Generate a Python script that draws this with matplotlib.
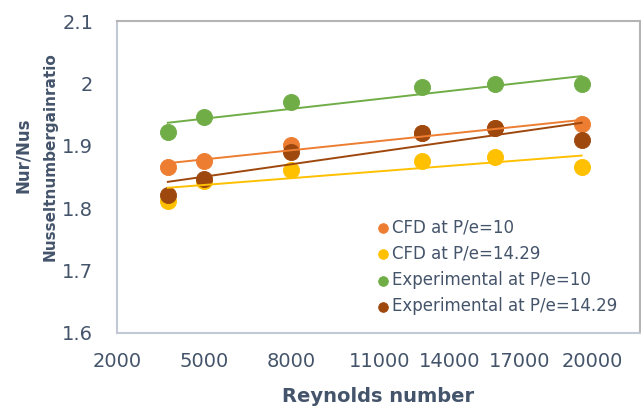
import numpy as np
import matplotlib.pyplot as plt

# Reynolds numbers and Nur/Nus ratio
re = [3750, 5000, 8000, 12500, 15000, 18000]
cfd_10 = [1.866, 1.876, 1.901, 1.920, 1.928, 1.935]
cfd_1429 = [1.812, 1.843, 1.861, 1.876, 1.882, 1.866]
exp_10 = [1.922, 1.946, 1.970, 1.994, 1.999, 1.999]
exp_1429 = [1.821, 1.847, 1.890, 1.921, 1.929, 1.909]

names = ['CFD at P/e=10', 'CFD at P/e=14.29',
         'Experimental at P/e=10', 'Experimental at P/e=14.29']
colors = ['#ED7D31', '#FFC000', '#70AD47', '#9E480E']

xtick_labels = ['2000', '5000', '8000', '11000', '14000', '17000', '20000']
xtick_pos = [2000, 5000, 8000, 11050, 13460, 15870, 18380]  # labels are squeezed in the original
ytick_vals = [1.6, 1.7, 1.8, 1.9, 2.0, 2.1]
ytick_labels = ['1.6', '1.7', '1.8', '1.9', '2', '2.1']

txt = '#44546A'

fig = plt.figure(figsize=(6.41, 4.08), dpi=100)
ax = fig.add_axes([0.1825, 0.184, 0.8155, 0.7645])

series = [cfd_10, cfd_1429, exp_10, exp_1429]
x = np.array(re)
for ys, c, name in zip(series, colors, names):
    ax.scatter(x, ys, s=135, color=c, edgecolors=c, linewidths=0.6, zorder=3, label=name)
# linear trend lines (drawn above the markers like Excel does)
for ys, c in zip(series, colors):
    k, b = np.polyfit(x, ys, 1)
    ax.plot([x[0], x[-1]], [k*x[0]+b, k*x[-1]+b], color=c, lw=1.4, zorder=4)

ax.set_xlim(2000, 20000)
ax.set_ylim(1.6, 2.1)
ax.set_xticks(xtick_pos)
ax.set_xticklabels(xtick_labels)
ax.set_yticks(ytick_vals)
ax.set_yticklabels(ytick_labels)
ax.tick_params(length=0, labelsize=14, labelcolor=txt)
ax.tick_params(axis='x', pad=14)
ax.tick_params(axis='y', pad=17)

for s in ['left', 'bottom']:
    ax.spines[s].set_color('#C3C9D4')
    ax.spines[s].set_linewidth(1.5)
for s in ['top', 'right']:
    ax.spines[s].set_color('#B4B4B4')
    ax.spines[s].set_linewidth(1.5)

fig.text(0.59, 0.027, 'Reynolds number', ha='center', va='center',
         fontsize=14, fontweight='bold', color=txt)
fig.text(0.036, 0.62, 'Nur/Nus', ha='center', va='center', rotation=90,
         fontsize=12, fontweight='bold', color=txt)
fig.text(0.078, 0.615, 'Nusseltnumbergainratio', ha='center', va='center', rotation=90,
         fontsize=11, fontweight='bold', color=txt)

leg = ax.legend(loc='lower right', bbox_to_anchor=(0.97, 0.035), frameon=False,
                fontsize=12, labelspacing=0.5, handletextpad=0.05,
                markerscale=0.6, handlelength=1.0, borderaxespad=0)
for t in leg.get_texts():
    t.set_color(txt)

fig.savefig('out.png', dpi=100)
